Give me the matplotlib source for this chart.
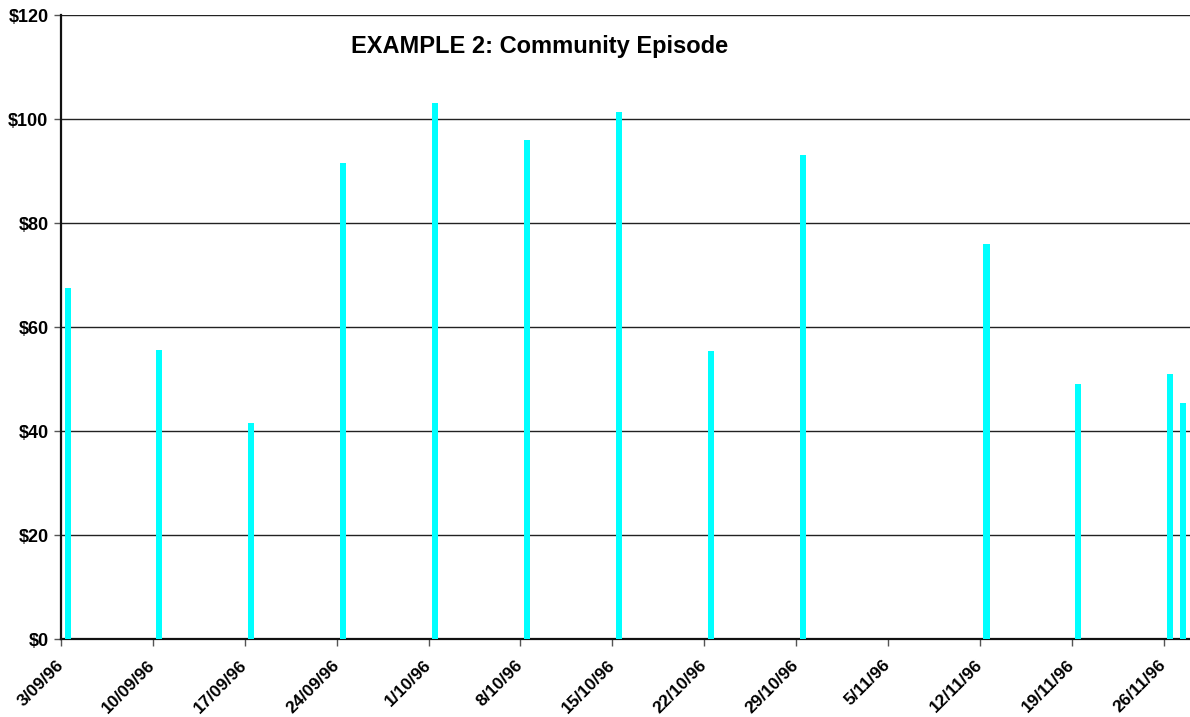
import matplotlib
matplotlib.use("Agg")
import matplotlib.pyplot as plt
import matplotlib.dates as mdates
from datetime import datetime, timedelta

plt.rcParams['font.family'] = ['Liberation Sans', 'DejaVu Sans']

# Daily spend on episode days
episode_dates = ["3/09/96", "10/09/96", "17/09/96", "24/09/96", "1/10/96", "8/10/96",
                 "15/10/96", "22/10/96", "29/10/96", "12/11/96", "19/11/96",
                 "26/11/96", "27/11/96"]
episode_cost = [67.5, 55.5, 41.6, 91.6, 103.1, 96.0, 101.3, 55.4, 93.1, 76.0, 49.1, 51.0, 45.4]

tick_labels = ["3/09/96", "10/09/96", "17/09/96", "24/09/96", "1/10/96", "8/10/96",
               "15/10/96", "22/10/96", "29/10/96", "5/11/96", "12/11/96", "19/11/96",
               "26/11/96"]
y_ticks = [0, 20, 40, 60, 80, 100, 120]


def parse(s):
    return datetime.strptime(s, "%d/%m/%y")


fig = plt.figure(figsize=(11.9, 7.17), dpi=100)
ax = fig.add_axes([61 / 1190, 1 - 639 / 717, 1 - 61 / 1190, (639 - 15) / 717])

x_bars = [mdates.date2num(parse(d) + timedelta(hours=12)) for d in episode_dates]
ax.bar(x_bars, episode_cost, width=0.46, color="#00FFFF", zorder=3)

start = parse(tick_labels[0])
ax.set_xlim(mdates.date2num(start), mdates.date2num(parse("27/11/96") + timedelta(days=1)))
ax.set_ylim(0, 120)

ax.set_xticks([mdates.date2num(parse(t)) for t in tick_labels])
ax.set_xticklabels(tick_labels, rotation=45, ha="right", va="center",
                   rotation_mode="anchor", fontsize=12.5, fontweight="bold")
ax.set_yticks(y_ticks)
ax.set_yticklabels([f"${v}" for v in y_ticks], fontsize=13, fontweight="bold")

ax.yaxis.grid(True, color="#222222", linewidth=1.0, zorder=0)
ax.set_axisbelow(True)
for s in ("top", "right"):
    ax.spines[s].set_visible(False)
for s in ("left", "bottom"):
    ax.spines[s].set_linewidth(1.6)
    ax.spines[s].set_color("#111111")
ax.tick_params(axis="both", direction="out", length=5, width=1, color="#555555", pad=4)
ax.tick_params(axis="x", pad=12)

fig.text(540 / 1190, 1 - 47 / 717, "EXAMPLE 2: Community Episode", fontsize=17,
         fontweight="bold", ha="center", va="center")

fig.savefig("out.png", dpi=100)
